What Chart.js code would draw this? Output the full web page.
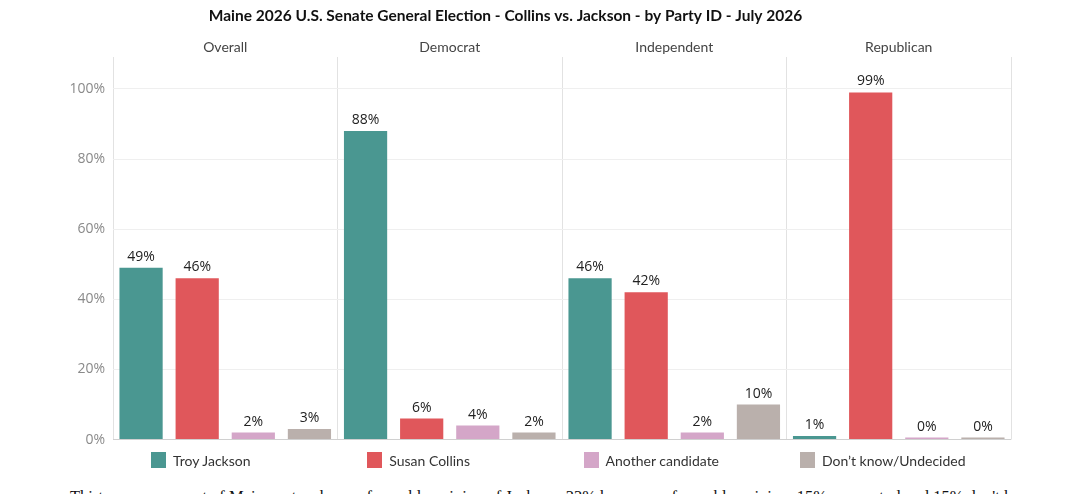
<!DOCTYPE html>
<html>
<head>
<meta charset="utf-8">
<script src="https://cdn.jsdelivr.net/npm/chart.js@4/dist/chart.umd.min.js"></script>
<style>
  body { margin: 0; background: #fff; width: 1080px; height: 494px; overflow: hidden; position: relative; }
  #wrap { position: absolute; left: 0; top: 0; width: 1080px; height: 456px; }
  #legend { position: absolute; left: 151px; top: 450px; font-family: Lato, sans-serif; font-size: 14px; color: #333; }
  #legend .item { position: absolute; top: 0; white-space: nowrap; }
  #legend .box { display: inline-block; width: 15px; height: 16px; vertical-align: middle; margin-right: 7px; }
  #legend span { vertical-align: middle; }
  #note { position: absolute; left: 70px; top: 487px; font-family: "Liberation Serif", serif; font-size: 16.5px; color: #111; white-space: nowrap; }
</style>
</head>
<body>
<div id="wrap"><canvas id="myChart"></canvas></div>
<div id="legend"></div>
<div id="note">Thirty-seven percent of Maine voters have a favorable opinion of Jackson, 33% have an unfavorable opinion, 15% are neutral and 15% don't know.</div>
<script>
// datos
var partidos = ['Overall', 'Democrat', 'Independent', 'Republican'];
var candidatos = ['Troy Jackson', 'Susan Collins', 'Another candidate', 'Don\u2019t know/Undecided'];
var troyJackson = [49, 88, 46, 1];
var susanCollins = [46, 6, 42, 99];
var otroCandidato = [2, 4, 2, 0];
var noSabe = [3, 2, 10, 0];
var ticksY = [0, 20, 40, 60, 80, 100];

var colores = ['#4a9791', '#e0575b', '#d4a6c8', '#bab0ac'];
var valores = [troyJackson, susanCollins, otroCandidato, noSabe];

// leyenda en html, columnas fijas
var leg = document.getElementById('legend');
for (var i = 0; i < candidatos.length; i++) {
  var it = document.createElement('div');
  it.className = 'item';
  it.style.left = (i * 216.3) + 'px';
  it.innerHTML = '<div class="box" style="background:' + colores[i] + '"></div><span>' + candidatos[i] + '</span>';
  leg.appendChild(it);
}

// etiquetas de valor arriba de cada barra
const etiquetas = {
  id: 'etiquetas',
  afterDatasetsDraw(chart) {
    const ctx = chart.ctx;
    ctx.save();
    ctx.font = '14px "Open Sans", sans-serif';
    ctx.fillStyle = '#222';
    ctx.textAlign = 'center';
    ctx.textBaseline = 'bottom';
    chart.data.datasets.forEach(function(ds, d) {
      chart.getDatasetMeta(d).data.forEach(function(bar, j) {
        ctx.fillText(ds.data[j] + '%', bar.x, bar.y - 4);
      });
    });
    ctx.restore();
  }
};

var datasets = [];
for (var k = 0; k < candidatos.length; k++) {
  datasets.push({
    label: candidatos[k],
    data: valores[k],
    backgroundColor: colores[k],
    barPercentage: 0.77,
    categoryPercentage: 1,
    minBarLength: 2
  });
}

const ctx = document.getElementById('myChart');
new Chart(ctx, {
  type: 'bar',
  data: { labels: partidos, datasets: datasets },
  plugins: [etiquetas],
  options: {
    responsive: true,
    maintainAspectRatio: false,
    animation: false,
    layout: { padding: { left: 0, right: 69, bottom: 4, top: 0 } },
    plugins: {
      legend: { display: false },
      tooltip: { enabled: false },
      title: {
        display: true,
        text: 'Maine 2026 U.S. Senate General Election - Collins vs. Jackson - by Party ID - July 2026',
        color: '#111',
        font: { family: 'Lato', size: 15.5, weight: 'bold' },
        padding: { top: 7, bottom: 11 }
      }
    },
    scales: {
      x: {
        position: 'top',
        grid: { color: '#e2e2e2', drawTicks: false, offset: true },
        border: { display: false },
        ticks: { color: '#444', padding: 2, font: { family: 'Lato', size: 14 } }
      },
      y: {
        min: 0,
        max: 109,
        afterBuildTicks: function(scale) {
          scale.ticks = ticksY.map(function(v) { return { value: v }; });
        },
        afterFit: function(scale) { scale.width = 113; },
        grid: {
          drawTicks: false,
          color: function(c) { return c.tick && c.tick.value === 0 ? '#d0d0d0' : '#efefef'; }
        },
        border: { display: false },
        ticks: {
          padding: 8,
          color: '#8a8a8a',
          font: { family: 'Open Sans', size: 14 },
          callback: function(v) { return v + '%'; }
        }
      }
    }
  }
});
</script>
</body>
</html>
